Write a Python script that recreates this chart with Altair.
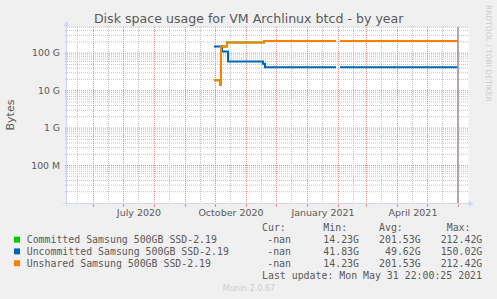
import altair as alt
import pandas as pd

# ---------------------------------------------------------------------------
# Disk usage per series (bytes). Each value holds from its date until the next
# one (step-after); None marks a stretch with no samples.
# ---------------------------------------------------------------------------
unshared_dates = ["2020-09-30T00:00Z", "2020-10-06T00:00Z", "2020-10-07T00:00Z",
                  "2020-10-13T00:00Z", "2020-11-19T00:00Z", "2021-01-30T00:00Z",
                  "2021-01-30T12:00Z", "2021-02-03T00:00Z", "2021-05-31T22:00Z"]
unshared_values = [19e9, 14.23e9, 150e9, 192e9, 212.42e9, 212.42e9,
                   None, 212.42e9, 212.42e9]

committed_dates = list(unshared_dates)
committed_values = list(unshared_values)

uncommitted_dates = ["2020-09-30T00:00Z", "2020-10-08T00:00Z", "2020-10-14T00:00Z",
                     "2020-11-18T00:00Z", "2020-11-20T00:00Z", "2021-01-30T00:00Z",
                     "2021-01-30T12:00Z", "2021-02-03T00:00Z", "2021-05-31T22:00Z"]
uncommitted_values = [150.02e9, 111e9, 60e9, 52e9, 41.83e9, 41.83e9,
                      None, 41.83e9, 41.83e9]

# Legend table
series_names = ["Committed Samsung 500GB SSD-2.19",
                "Uncommitted Samsung 500GB SSD-2.19",
                "Unshared Samsung 500GB SSD-2.19"]
series_colors = ["#00CC00", "#0066B3", "#FF8000"]
cur_values = ["-nan", "-nan", "-nan"]
min_values = ["14.23G", "41.83G", "14.23G"]
avg_values = ["201.53G", "49.62G", "201.53G"]
max_values = ["212.42G", "150.02G", "212.42G"]
last_update = "Last update: Mon May 31 22:00:25 2021"

# Axis labels and grid
y_tick_values = [1e8, 1e9, 1e10, 1e11]
y_tick_labels = ["100 M", "1 G", "10 G", "100 G"]
x_label_dates = ["2020-07-17T00:00Z", "2020-10-17T00:00Z",
                 "2021-01-17T00:00Z", "2021-04-17T00:00Z"]
x_label_texts = ["July 2020", "October 2020", "January 2021", "April 2021"]
month_starts = ["2020-06-01T00:00Z", "2020-07-01T00:00Z", "2020-08-01T00:00Z",
                "2020-09-01T00:00Z", "2020-10-01T00:00Z", "2020-11-01T00:00Z",
                "2020-12-01T00:00Z", "2021-01-01T00:00Z", "2021-02-01T00:00Z",
                "2021-03-01T00:00Z", "2021-04-01T00:00Z", "2021-05-01T00:00Z",
                "2021-06-01T00:00Z"]
mid_months = ["2020-05-16T00:00Z", "2020-06-16T00:00Z", "2020-07-16T00:00Z",
              "2020-08-16T00:00Z", "2020-09-16T00:00Z", "2020-10-16T00:00Z",
              "2020-11-16T00:00Z", "2020-12-16T00:00Z", "2021-01-16T00:00Z",
              "2021-02-16T00:00Z", "2021-03-16T00:00Z", "2021-04-16T00:00Z",
              "2021-05-16T00:00Z"]
now_marker = ["2021-05-31T22:00Z"]

TITLE = "Disk space usage for VM Archlinux btcd - by year"

# ---------------------------------------------------------------------------
# Layout / style
# ---------------------------------------------------------------------------
W, H = 401, 176
PAD = {"left": 67, "top": 27, "right": 29, "bottom": 96}
SANS = "DejaVu Sans"
MONO = "DejaVu Sans Mono"
FONT_C = "#5a5a5a"
AXIS_C = "#CFD6F8"
GRID_C = "#c2c2c2"
MGRID_C = "#e38c8c"

xscale = alt.Scale(type="utc", domain=[
    alt.DateTime(year=2020, month=5, date=6, utc=True),
    alt.DateTime(year=2021, month=6, date=11, utc=True)])
yscale = alt.Scale(type="log", domain=[1e7, 5e11], nice=False)

ONE = pd.DataFrame({"k": [0]})


def series_frame(dates, values):
    """Rows with a segment id; a None value starts a new segment."""
    rows, seg = [], 0
    for d, v in zip(dates, values):
        if v is None:
            seg += 1
            continue
        rows.append({"d": d, "v": v, "seg": seg})
    return pd.DataFrame(rows)


def text(t, x, y, size, align="left", color=FONT_C, font=SANS, angle=0,
         baseline="alphabetic"):
    kw = dict(align=align, baseline=baseline, fontSize=size, color=color, font=font)
    if angle:
        kw["angle"] = angle
    return alt.Chart(ONE).mark_text(**kw).encode(
        x=alt.value(x), y=alt.value(y), text=alt.value(t))


layers = []

# horizontal grid: minor (2..9 per decade) then decades
minor_y = [m * 10 ** e for e in range(7, 12) for m in range(2, 10) if m * 10 ** e <= 5e11]
layers.append(alt.Chart(pd.DataFrame({"v": minor_y})).mark_rule(
    color=GRID_C, strokeDash=[1, 1], strokeWidth=1).encode(
    y=alt.Y("v:Q", scale=yscale, axis=None), x=alt.value(-2), x2=alt.value(W)))
layers.append(alt.Chart(pd.DataFrame({"v": y_tick_values})).mark_rule(
    color=MGRID_C, strokeDash=[1, 1], strokeWidth=1).encode(
    y=alt.Y("v:Q", scale=yscale, axis=None), x=alt.value(-2), x2=alt.value(W)))

# vertical grid: mid-month (minor) and month starts (major), nudged onto pixel centres
layers.append(alt.Chart(pd.DataFrame({"d": mid_months})).mark_rule(
    color=GRID_C, strokeDash=[1, 1], strokeWidth=1, xOffset=0.5).encode(
    x=alt.X("d:T", scale=xscale, axis=None), y=alt.value(0), y2=alt.value(H + 2)))
layers.append(alt.Chart(pd.DataFrame({"d": month_starts})).mark_rule(
    color=MGRID_C, strokeDash=[1, 1], strokeWidth=1, xOffset=0.5).encode(
    x=alt.X("d:T", scale=xscale, axis=None), y=alt.value(0), y2=alt.value(H)))
layers.append(alt.Chart(pd.DataFrame({"d": month_starts})).mark_rule(
    color=MGRID_C, strokeWidth=1, xOffset=0.5).encode(
    x=alt.X("d:T", scale=xscale, axis=None), y=alt.value(H), y2=alt.value(H + 4)))

# data lines (drawn committed, uncommitted, unshared)
for (dates, values), col in zip(
        [(committed_dates, committed_values),
         (uncommitted_dates, uncommitted_values),
         (unshared_dates, unshared_values)], series_colors):
    layers.append(alt.Chart(series_frame(dates, values)).mark_line(
        interpolate="step-after", strokeWidth=2, color=col).encode(
        x=alt.X("d:T", scale=xscale, axis=None),
        y=alt.Y("v:Q", scale=yscale, axis=None),
        detail="seg:N"))

# current-time marker
layers.append(alt.Chart(pd.DataFrame({"d": now_marker})).mark_rule(
    color="#999999", strokeWidth=1.5).encode(
    x=alt.X("d:T", scale=xscale, axis=None), y=alt.value(0), y2=alt.value(H)))

# axes with arrow heads
layers.append(alt.Chart(ONE).mark_rule(color=AXIS_C, strokeWidth=1).encode(
    x=alt.value(-4), x2=alt.value(W + 1), y=alt.value(H + 0.5)))
layers.append(alt.Chart(ONE).mark_rule(color=AXIS_C, strokeWidth=1).encode(
    x=alt.value(-0.5), y=alt.value(-2), y2=alt.value(H + 3)))
layers.append(alt.Chart(ONE).mark_point(
    shape="triangle-right", filled=True, size=34, color=AXIS_C, opacity=1).encode(
    x=alt.value(W + 3), y=alt.value(H + 0.5)))
layers.append(alt.Chart(ONE).mark_point(
    shape="triangle-up", filled=True, size=34, color=AXIS_C, opacity=1).encode(
    x=alt.value(-0.5), y=alt.value(-3.5)))

# tick labels
layers.append(alt.Chart(pd.DataFrame({"v": y_tick_values, "t": y_tick_labels})).mark_text(
    align="right", baseline="middle", fontSize=9.3, font=SANS, color=FONT_C).encode(
    y=alt.Y("v:Q", scale=yscale, axis=None), x=alt.value(-7), text="t:N"))
layers.append(alt.Chart(pd.DataFrame({"d": x_label_dates, "t": x_label_texts})).mark_text(
    align="center", baseline="alphabetic", fontSize=9.5, font=SANS, color=FONT_C).encode(
    x=alt.X("d:T", scale=xscale, axis=None), y=alt.value(H + 13), text="t:N"))

# titles and side texts
layers.append(text(TITLE, 181.7, -4.5, 12.6, align="center"))
layers.append(text("Bytes", -56, 88, 11, align="center", angle=270, baseline="middle"))
layers.append(text("RRDTOOL / TOBI OETIKER", 421, 26.3, 7.5, align="center",
                   color="#cccccc", angle=90, baseline="middle"))

# legend table
ROW0, ROW_STEP = 216.2, 11.8
layers.append(text("Cur:", 195, 204, 9.9, font=MONO))
layers.append(text("Min:", 256.3, 204, 9.9, font=MONO))
layers.append(text("Avg:", 312, 204, 9.9, font=MONO))
layers.append(text("Max:", 379.7, 204, 9.9, font=MONO))
for i, name in enumerate(series_names):
    y = ROW0 + i * ROW_STEP
    layers.append(alt.Chart(ONE).mark_square(size=36, color=series_colors[i], opacity=1).encode(
        x=alt.value(-50), y=alt.value(y - 3.6)))
    layers.append(text(name, -40.3, y, 9.9, font=MONO))
    layers.append(text(cur_values[i], 224, y, 9.9, align="right", font=MONO))
    layers.append(text(min_values[i], 292, y, 9.9, align="right", font=MONO))
    layers.append(text(avg_values[i], 353.7, y, 9.9, align="right", font=MONO))
    layers.append(text(max_values[i], 415.3, y, 9.9, align="right", font=MONO))
layers.append(text(last_update, 195, 251.8, 9.9, font=MONO))
layers.append(text("Munin 2.0.67", 182, 263.7, 8, align="center", color="#cccccc"))

chart = alt.layer(*layers).properties(
    width=W, height=H,
    padding=PAD,
    autosize=alt.AutoSizeParams(type="none"),
    background="#f0f0f0",
).configure_view(fill="white", stroke="transparent")

chart.save("out.html", embed_options={"renderer": "svg", "actions": False})
